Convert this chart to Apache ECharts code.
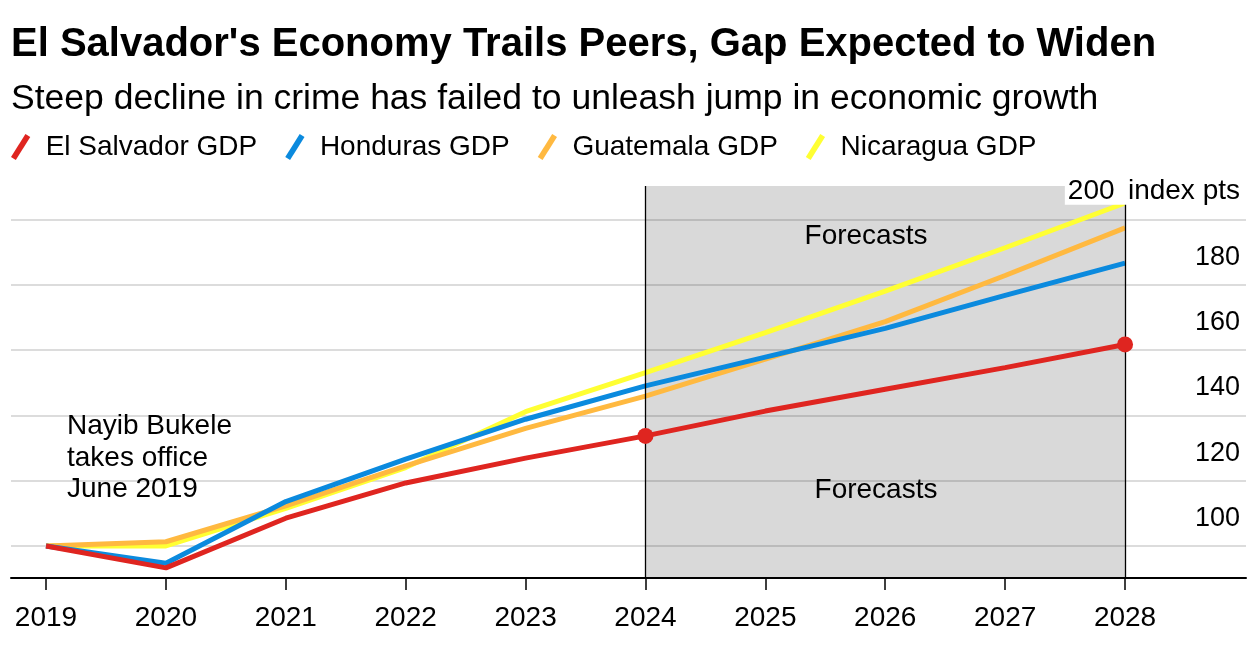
<!DOCTYPE html>
<html>
<head>
<meta charset="utf-8">
<script src="https://cdn.jsdelivr.net/npm/echarts@6/dist/echarts.min.js"></script>
<style>
html,body{margin:0;padding:0;background:#fff;}
#chart{width:1258px;height:647px;}
</style>
</head>
<body>
<div id="chart"></div>
<script>
const years = [2019, 2020, 2021, 2022, 2023, 2024, 2025, 2026, 2027, 2028];
const elSalvador = [100, 93.3, 108.5, 119.3, 126.9, 133.7, 141.3, 148.0, 154.6, 161.7];
const honduras = [100, 94.7, 113.6, 126.6, 138.8, 149.0, 157.8, 166.6, 176.7, 186.6];
const guatemala = [100, 101.3, 112.3, 124.5, 136.0, 145.9, 157.2, 168.7, 182.8, 197.4];
const nicaragua = [100, 100.0, 111.5, 124.0, 141.1, 153.1, 165.3, 178.0, 191.3, 205.0];
const yTicks = [100, 120, 140, 160, 180, 200];
const forecastStart = 2024;
const forecastEnd = 2028;
const markerYears = [2024, 2028];

const FONT = '"Liberation Sans", Arial, Helvetica, sans-serif';
const COLORS = {
  'El Salvador GDP': '#df2520',
  'Honduras GDP': '#0b8ade',
  'Guatemala GDP': '#ffb940',
  'Nicaragua GDP': '#ffff33'
};

function pairs(vals, withMarkers) {
  return years.map((y, i) => {
    const item = { value: [y, vals[i]] };
    if (withMarkers && markerYears.includes(y)) {
      item.symbol = 'circle';
      item.symbolSize = 16;
    }
    return item;
  });
}

function lineSeries(name, vals, withMarkers, z) {
  return {
    name: name,
    type: 'line',
    z: z,
    data: pairs(vals, withMarkers),
    symbol: 'none',
    showSymbol: true,
    lineStyle: { width: 5, color: COLORS[name] },
    itemStyle: { color: COLORS[name] },
    emphasis: { disabled: true },
    animation: false
  };
}

const chart = echarts.init(document.getElementById('chart'), null, { renderer: 'canvas' });

const slash = 'path://M0,24 L15,0 L20,3 L5,27 Z';

const option = {
  backgroundColor: '#fff',
  animation: false,
  textStyle: { fontFamily: FONT },
  title: [
    { text: "El Salvador's Economy Trails Peers, Gap Expected to Widen", left: 11, top: 25, padding: 0,
      textStyle: { fontFamily: FONT, fontSize: 40, fontWeight: 'bold', color: '#000' } },
    { text: 'Steep decline in crime has failed to unleash jump in economic growth', left: 11, top: 81, padding: 0,
      textStyle: { fontFamily: FONT, fontSize: 35.5, fontWeight: 'normal', color: '#000' } }
  ],
  legend: {
    left: 11, top: 133, padding: 0,
    icon: slash,
    itemWidth: 22, itemHeight: 26,
    itemGap: 28,
    data: ['El Salvador GDP', 'Honduras GDP', 'Guatemala GDP', 'Nicaragua GDP'],
    textStyle: { fontFamily: FONT, fontSize: 28, color: '#000', padding: [0, 0, 0, 9] },
    selectedMode: false
  },
  grid: { left: 11, right: 12, top: 186, bottom: 69, containLabel: false },
  xAxis: {
    type: 'value',
    min: 2018.708, max: 2029.009,
    axisLine: { show: true, lineStyle: { color: '#000', width: 2 } },
    axisTick: { show: true, length: 12, lineStyle: { color: '#000', width: 1.5 }, customValues: years },
    axisLabel: { customValues: years, margin: 26, fontFamily: FONT, fontSize: 28, color: '#000', formatter: v => String(v) },
    splitLine: { show: false }
  },
  yAxis: [
    {
      type: 'value', position: 'right',
      min: 90.2, max: 210.2,
      axisLine: { show: false },
      axisTick: { show: false, customValues: yTicks },
      axisLabel: {
        inside: true, margin: 6, customValues: yTicks.slice(0, -1),
        fontFamily: FONT, fontSize: 27, color: '#000',
        verticalAlign: 'bottom', padding: [0, 0, 14, 0], lineHeight: 27
      },
      splitLine: { show: true, lineStyle: { color: '#dcdcdc', width: 2 } }
    },
    {
      type: 'value', position: 'right',
      min: 90.2, max: 210.2, z: 5,
      axisLine: { show: false },
      axisTick: { show: false, customValues: [200] },
      axisLabel: {
        inside: true, margin: 6, customValues: [200],
        fontFamily: FONT, fontSize: 27, color: '#000',
        verticalAlign: 'bottom', padding: [0, 0, 14, 0], lineHeight: 27,
        formatter: v => '{w|' + v + '\u2009 index pts}',
        rich: { w: { backgroundColor: '#fff', fontFamily: FONT, fontSize: 28, color: '#000', lineHeight: 29, padding: [0, 0, 0, 3] } }
      },
      splitLine: { show: false }
    }
  ],
  series: [
    {
      name: 'forecast',
      type: 'line',
      data: [],
      z: 1,
      silent: true,
      markArea: {
        silent: true,
        itemStyle: { color: 'rgba(0,0,0,0.15)' },
        data: [[{ xAxis: forecastStart }, { xAxis: forecastEnd }]]
      }
    },
    lineSeries('Nicaragua GDP', nicaragua, false, 2),
    lineSeries('Guatemala GDP', guatemala, false, 3),
    lineSeries('Honduras GDP', honduras, false, 4),
    lineSeries('El Salvador GDP', elSalvador, true, 5),
    {
      name: 'forecastEdges',
      type: 'line',
      data: [],
      z: 8,
      silent: true,
      markLine: {
        silent: true,
        symbol: 'none',
        label: { show: false },
        lineStyle: { color: '#000', width: 1.3, type: 'solid' },
        data: [{ xAxis: forecastStart }, { xAxis: forecastEnd }]
      }
    }
  ],
  graphic: [
    { type: 'text', z: 100, left: 67, top: 411, style: { text: 'Nayib Bukele\ntakes office\nJune 2019', font: '28px ' + FONT, lineHeight: 31.5, fill: '#000' } },
    { type: 'text', z: 100, x: 866, y: 236, style: { text: 'Forecasts', font: '28px ' + FONT, fill: '#000', align: 'center', verticalAlign: 'middle' } },
    { type: 'text', z: 100, x: 876, y: 490, style: { text: 'Forecasts', font: '28px ' + FONT, fill: '#000', align: 'center', verticalAlign: 'middle' } }
  ]
};

chart.setOption(option);
</script>
</body>
</html>
